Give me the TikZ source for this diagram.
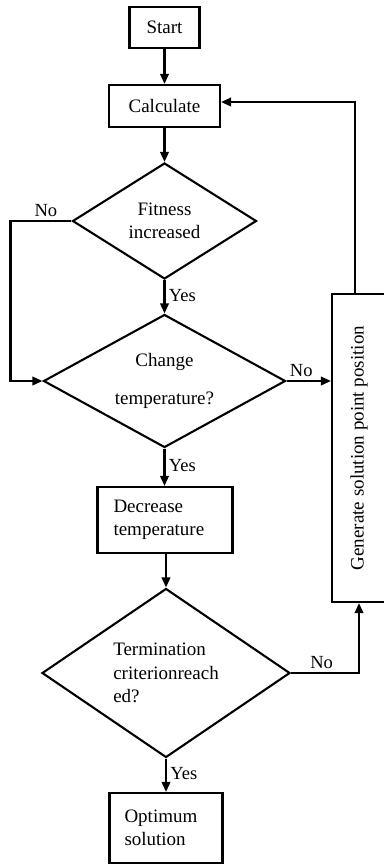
\documentclass[tikz,border=0pt]{standalone}
\usepackage{fontspec}
\setmainfont{Liberation Serif}
\usepackage{graphicx}
\usetikzlibrary{arrows.meta,shapes.geometric,calc}
\tikzset{arr/.style={-{Triangle[length=10pt,width=8.5pt]}},
  box/.style={draw, line width=2.1pt, align=left},
  dia/.style={draw, diamond, line width=2.1pt, inner sep=0pt, align=center},
  lbl/.style={font=\fontsize{18.5}{22}\selectfont}}

\begin{document}
\begin{tikzpicture}[x=1pt, y=-1pt, line width=2.1pt, font=\fontsize{19}{23.5}\selectfont]
  \useasboundingbox (0,0) rectangle (383,865);
  % process boxes
  \node[box, minimum width=70pt, minimum height=41pt] (start) at (164.5,27.5) {Start};
  \node[box, minimum width=111pt, minimum height=42pt] (calc) at (164.5,106) {Calculate};
  \node[box, minimum width=135pt, minimum height=66pt, text width=103pt, inner xsep=16pt] (dec) at (165,520) {Decrease\\temperature};
  \node[box, minimum width=113pt, minimum height=70pt, text width=83pt, inner xsep=15pt] (opt) at (166,828) {Optimum\\solution};
  \node[box, minimum width=54pt, minimum height=308pt] (gen) at (359,448) {\rotatebox{90}{Generate solution point position}};
  % decisions
  \node[dia, aspect=1.59, minimum width=184pt, minimum height=116pt] (fit) at (164.5,221) {Fitness\\increased};
  \node[dia, aspect=1.82, minimum width=242pt, minimum height=133pt] (chg) at (164.5,381) {Change\\[14.5pt]temperature?};
  \node[dia, aspect=1.47, minimum width=248pt, minimum height=169pt, align=left] (term) at (166,673) {Termination\\criterionreach\\ed?};
  % flow
  \draw[arr] (start) -- (calc);
  \draw[arr] (calc) -- (fit);
  \draw[arr] (fit) -- node[lbl, right, pos=0.45]{Yes} (chg);
  \draw[arr] (fit.west) -- node[lbl, above, pos=0.42]{No} ++(-61,0) |- (chg.west);
  \draw[arr] (chg.east) -- node[lbl, above, pos=0.33]{No} (chg.east -| gen.west);
  \draw[arr] (chg) -- node[lbl, right, pos=0.45]{Yes} (chg.south |- dec.north);
  \draw[arr] (dec.south -| term.north) -- (term);
  \draw[arr] (term.east) -- node[lbl, above, pos=0.45]{No} (term.east -| gen.south) -- (gen.south);
  \draw[arr] (term) -- node[lbl, right, pos=0.45]{Yes} (opt);
  % loop back
  \draw[arr] ($(gen.north)+(-4,0)$) |- ($(calc.east)+(0,-4)$);
\end{tikzpicture}
\end{document}
